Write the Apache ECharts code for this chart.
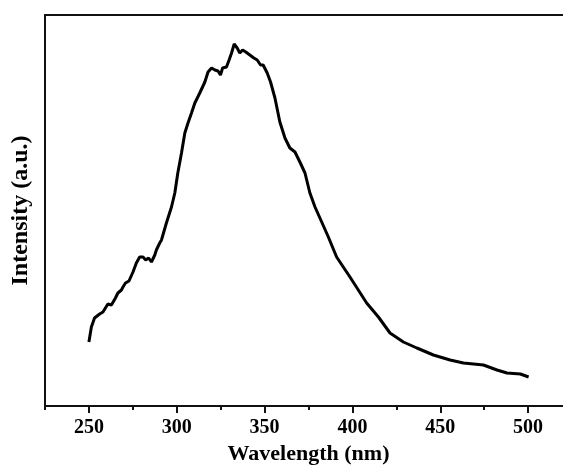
<!DOCTYPE html>
<html>
<head>
<meta charset="utf-8">
<script src="https://cdn.jsdelivr.net/npm/echarts@6/dist/echarts.min.js"></script>
<style>html,body{margin:0;padding:0;background:#fff;overflow:hidden;}#c{width:563px;height:469px;}</style>
</head>
<body>
<div id="c"></div>
<script>
// Wavelength (nm)
const wavelength = [250.0, 251.4, 253.2, 256.1, 258.0, 259.4, 260.8, 262.8, 265.1, 266.5, 268.5, 269.4, 270.8, 272.8, 275.1, 277.0, 278.9, 280.8, 282.3, 284.0, 285.6, 287.5, 288.4, 290.3, 291.3, 294.1, 297.0, 298.9, 300.6, 302.7, 304.6, 306.4, 308.4, 310.3, 313.1, 316.0, 317.8, 319.8, 321.7, 323.5, 324.9, 326.1, 328.3, 329.8, 331.2, 332.7, 334.4, 335.9, 337.5, 339.3, 341.6, 343.9, 345.8, 347.7, 349.2, 351.5, 353.4, 355.9, 358.7, 361.6, 364.4, 367.3, 370.1, 373.0, 375.8, 378.7, 381.5, 386.3, 391.0, 398.6, 408.1, 414.8, 421.4, 429.0, 436.7, 446.1, 455.6, 463.2, 474.6, 482.3, 488.0, 495.6, 500.3];
// Intensity (a.u.)
const intensity = [64, 79, 88, 92, 94, 98, 102, 101, 108, 113, 116, 119, 123, 125, 134, 143, 149, 149, 146, 148, 144, 151, 156, 163, 166, 183, 199, 213, 233, 253, 273, 283, 293, 303, 313, 324, 334, 338, 336, 335, 331, 338, 339, 346, 353, 362, 358, 353, 356, 354, 351, 348, 346, 341, 341, 333, 324, 308, 284, 268, 258, 254, 244, 233, 213, 199, 188, 169, 149, 129, 103, 89, 73, 64, 58, 51, 46, 43, 41, 36, 33, 32, 29];
const majorTicks = [250, 300, 350, 400, 450, 500];
const minorTicks = [225, 275, 325, 375, 425, 475, 525];

const chart = echarts.init(document.getElementById('c'));
const font = '"Liberation Serif", "Times New Roman", serif';
chart.setOption({
  animation: false,
  backgroundColor: '#fff',
  grid: { left: 45, top: 15, width: 527, height: 391, containLabel: false, outerBoundsMode: 'none' },
  xAxis: [{
    type: 'value', min: 225, max: 525,
    name: 'Wavelength (nm)', nameLocation: 'middle', nameGap: 34,
    nameTextStyle: { fontFamily: font, fontWeight: 'bold', fontSize: 22, color: '#000' },
    axisLine: { show: true, lineStyle: { color: '#111', width: 2 } },
    axisTick: { show: true, inside: false, length: 7, customValues: majorTicks,
      lineStyle: { color: '#111', width: 2 } },
    axisLabel: { fontFamily: font, fontWeight: 'bold', fontSize: 20, color: '#000', margin: 12,
      customValues: majorTicks },
    splitLine: { show: false }
  }, {
    type: 'value', position: 'bottom', min: 225, max: 525,
    axisLine: { show: false },
    axisTick: { show: true, inside: false, length: 4, customValues: minorTicks,
      lineStyle: { color: '#111', width: 2 } },
    axisLabel: { show: false }, splitLine: { show: false }
  }, {
    type: 'value', position: 'top', min: 225, max: 525,
    axisLine: { show: true, lineStyle: { color: '#111', width: 2 } },
    axisTick: { show: false }, axisLabel: { show: false }, splitLine: { show: false }
  }],
  yAxis: {
    type: 'value', min: 0, max: 391,
    name: 'Intensity (a.u.)', nameLocation: 'middle', nameGap: 12,
    nameTextStyle: { fontFamily: font, fontWeight: 'bold', fontSize: 24, color: '#000' },
    axisLine: { show: true, lineStyle: { color: '#111', width: 2 } },
    axisTick: { show: false }, axisLabel: { show: false }, splitLine: { show: false }
  },
  series: [{
    type: 'line', xAxisIndex: 0,
    data: wavelength.map((w, i) => [w, intensity[i]]),
    showSymbol: false, symbol: 'none',
    lineStyle: { color: '#000', width: 3 }
  }]
});
</script>
</body>
</html>
